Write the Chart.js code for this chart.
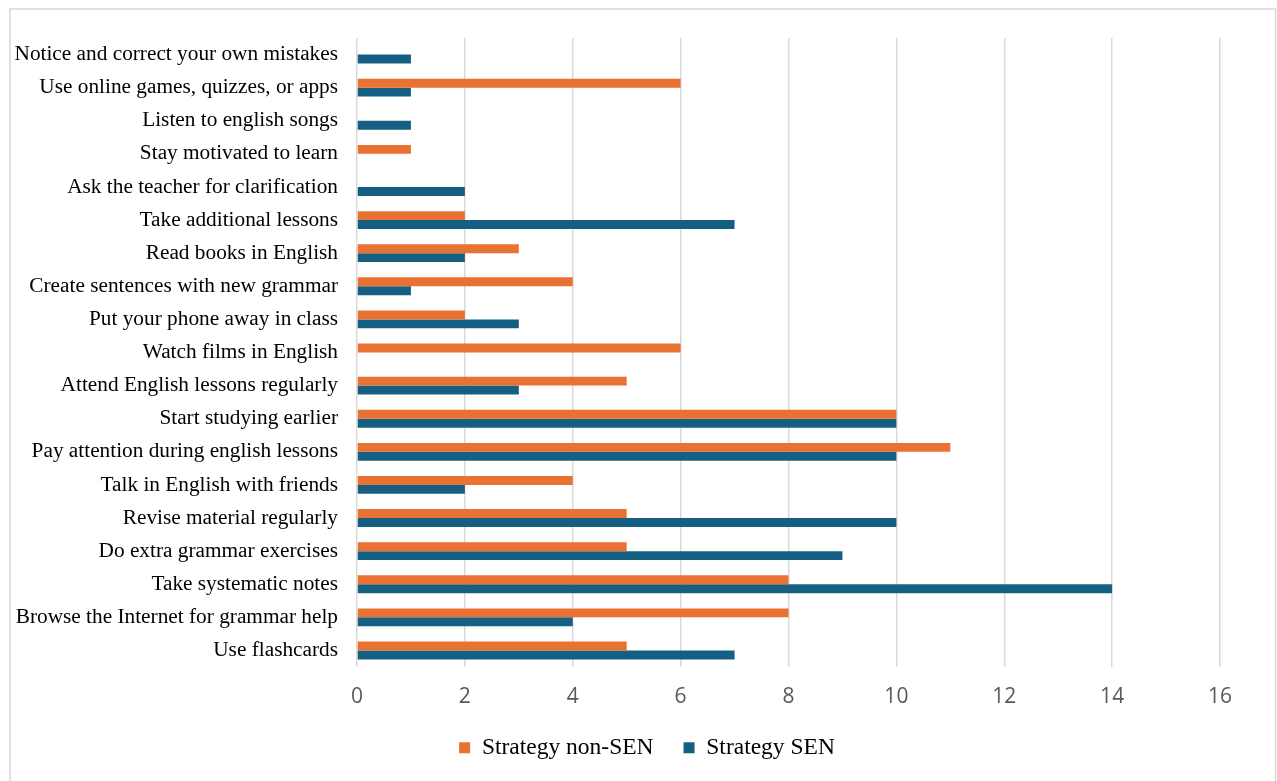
<!DOCTYPE html>
<html>
<head>
<meta charset="utf-8">
<script src="https://cdn.jsdelivr.net/npm/chart.js@4"></script>
<style>
  html, body { margin: 0; padding: 0; background: #ffffff; }
  #wrap { position: relative; width: 1277px; height: 781px; }
  canvas { display: block; }
</style>
</head>
<body>
<div id="wrap"><canvas id="c" width="1277" height="781"></canvas></div>
<script>
const categories = [
  "Notice and correct your own mistakes",
  "Use online games, quizzes, or apps",
  "Listen to english songs",
  "Stay motivated to learn",
  "Ask the teacher for clarification",
  "Take additional lessons",
  "Read books in English",
  "Create sentences with new grammar",
  "Put your phone away in class",
  "Watch films in English",
  "Attend English lessons regularly",
  "Start studying earlier",
  "Pay attention during english lessons",
  "Talk in English with friends",
  "Revise material regularly",
  "Do extra grammar exercises",
  "Take systematic notes",
  "Browse the Internet for grammar help",
  "Use flashcards"
];
const nonSEN = [0, 6, 0, 1, 0, 2, 3, 4, 2, 6, 5, 10, 11, 4, 5, 5, 8, 8, 5];
const SEN    = [1, 1, 1, 0, 2, 7, 2, 1, 3, 0, 3, 10, 10, 2, 10, 9, 14, 4, 7];
const seriesNames = ["Strategy non-SEN", "Strategy SEN"];
const xMin = 0, xMax = 16, xStep = 2;

const frame = {
  id: 'frame',
  beforeDraw(chart) {
    const ctx = chart.ctx;
    ctx.save();
    ctx.fillStyle = '#ffffff';
    ctx.fillRect(0, 0, chart.width, chart.height);
    ctx.strokeStyle = '#d9d9d9';
    ctx.lineWidth = 1.5;
    ctx.strokeRect(10, 9, 1265.5, 790);
    ctx.restore();
  }
};

const legendShift = {
  id: 'legendShift',
  afterLayout(chart) {
    const lg = chart.legend;
    if (lg) { lg.left += 37; lg.right += 37; }
  }
};

new Chart(document.getElementById('c'), {
  type: 'bar',
  data: {
    labels: categories,
    datasets: [
      { label: seriesNames[0], data: nonSEN, backgroundColor: '#E97132', borderWidth: 0 },
      { label: seriesNames[1], data: SEN, backgroundColor: '#156082', borderWidth: 0 }
    ]
  },
  options: {
    indexAxis: 'y',
    responsive: false,
    animation: false,
    devicePixelRatio: 1,
    categoryPercentage: 0.54,
    barPercentage: 1.0,
    layout: { padding: { left: 0, right: 57, top: 38, bottom: 11.5 } },
    plugins: {
      legend: {
        position: 'bottom',
        labels: {
          boxWidth: 11,
          boxHeight: 11,
          padding: 30,
          color: '#000000',
          font: { family: '"Liberation Serif", "Times New Roman", serif', size: 23.5 }
        }
      },
      tooltip: { enabled: false }
    },
    scales: {
      x: {
        min: xMin, max: xMax,
        ticks: {
          stepSize: xStep,
          padding: 17,
          color: '#595959',
          font: { family: '"Open Sans", Roboto, sans-serif', size: 21 }
        },
        grid: { color: '#d9d9d9', lineWidth: 1.5, drawTicks: false },
        border: { display: false },
        afterFit(scale) { scale.height = 39; }
      },
      y: {
        ticks: {
          padding: 19,
          color: '#000000',
          autoSkip: false,
          font: { family: '"Liberation Serif", "Times New Roman", serif', size: 21.3 }
        },
        grid: { display: false, drawTicks: false },
        border: { display: false },
        afterFit(scale) { scale.width = 357; }
      }
    }
  },
  plugins: [frame, legendShift]
});
</script>
</body>
</html>
